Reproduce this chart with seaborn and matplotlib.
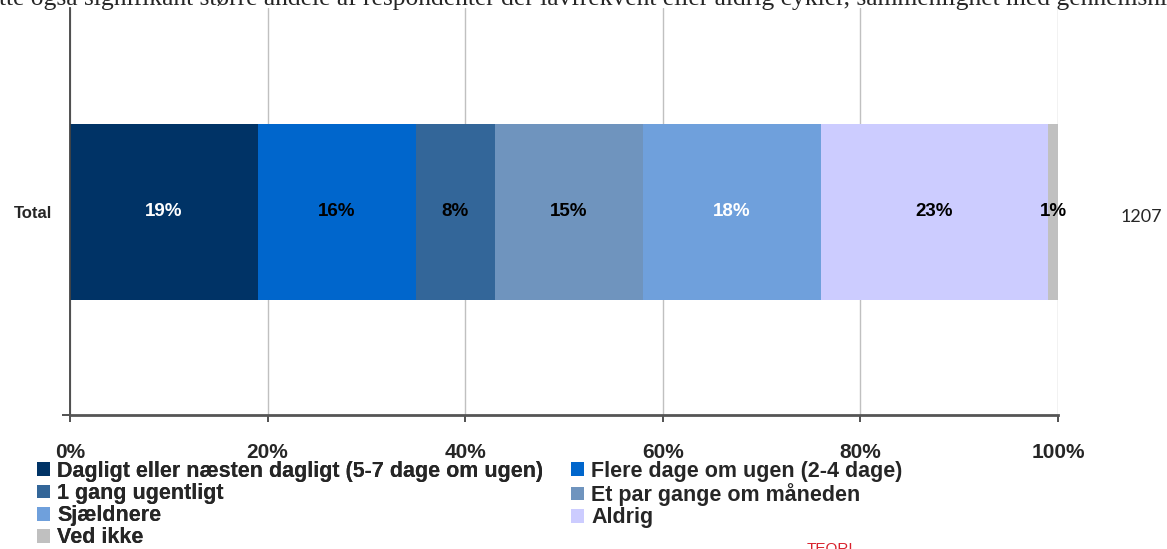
import matplotlib
matplotlib.use("Agg")
import matplotlib.pyplot as plt
from matplotlib.patches import Patch
import pandas as pd
import seaborn as sns


CATEGORIES = [
    "Dagligt eller næsten dagligt (5-7 dage om ugen)",
    "Flere dage om ugen (2-4 dage)",
    "1 gang ugentligt",
    "Et par gange om måneden",
    "Sjældnere",
    "Aldrig",
    "Ved ikke",
]
SHARES = [19, 16, 8, 15, 18, 23, 1]
COLORS = ["#003366", "#0066CC", "#336699", "#6F94BE", "#6FA0DC", "#CCCCFF", "#C0C0C0"]
LABEL_COLORS = ["white", "black", "black", "black", "white", "black", "black"]
ROW = "Total"
N_TOTAL = "1207"
INTRO = ("tte også signifikant større andele af respondenter der lavfrekvent "
         "eller aldrig cykler, sammenlignet med gennemsnittet")

W, H = 1167, 549


def main():
    sns.set_theme(style="white")
    plt.rcParams["font.family"] = ["Liberation Sans", "DejaVu Sans"]

    df = pd.DataFrame({"category": CATEGORIES, "share": SHARES})
    df["end"] = df["share"].cumsum()
    df["start"] = df["end"] - df["share"]
    df["row"] = ROW

    fig = plt.figure(figsize=(W / 100, H / 100), dpi=100)
    ax = fig.add_axes([70 / W, 1 - 415 / H, (1058 - 70) / W, (415 - 8) / H])

    # stacked bars: draw cumulative totals back to front
    for i in reversed(range(len(df))):
        sns.barplot(data=df.iloc[[i]], x="end", y="row", color=COLORS[i],
                    width=0.8, saturation=1, linewidth=0, ax=ax, zorder=2)

    for i, r in df.iterrows():
        ax.text((r["start"] + r["end"]) / 2, 0, f"{r['share']}%",
                ha="center", va="center", fontsize=13.5, fontweight="bold",
                color=LABEL_COLORS[i], zorder=3)

    ax.set_xlim(0, 100)
    ax.set_ylim(0.925, -0.925)
    ax.set_xticks(range(0, 101, 20))
    ax.set_xticklabels([f"{v}%" for v in range(0, 101, 20)],
                       fontsize=15, fontweight="bold")
    ax.tick_params(axis="x", direction="out", length=5, width=1.2,
                   color="#333333", pad=15, bottom=True)
    ax.set_yticks([0])
    ax.set_yticklabels([ROW], fontsize=12, fontweight="bold")
    ax.tick_params(axis="y", length=0, pad=13)
    ax.set_yticks([0.925], minor=True)
    ax.tick_params(axis="y", which="minor", direction="out", length=6,
                   width=1.2, color="#333333", left=True)
    ax.set_xlabel("")
    ax.set_ylabel("")

    ax.grid(axis="x", color="#C0C0C0", linewidth=1, zorder=0)
    ax.set_axisbelow(True)
    for side in ["top", "right"]:
        ax.spines[side].set_visible(False)
    ax.spines["left"].set_color("#444444")
    ax.spines["left"].set_linewidth(1.3)
    ax.spines["bottom"].set_color("#555555")
    ax.spines["bottom"].set_linewidth(2)

    fig.text(1121 / W, 1 - 217 / H, N_TOTAL, fontsize=13, ha="left",
             va="center", family=["Lato", "DejaVu Sans"])

    fig.text(-1 / W, 1 - 5 / H, INTRO, fontsize=18.4, ha="left", va="baseline",
             family=["Liberation Serif", "DejaVu Serif"])

    handles = [Patch(facecolor=c, edgecolor="none") for c in COLORS]
    legend_style = dict(frameon=False, prop={"weight": "bold", "size": 15.5},
                        handlelength=0.62, handleheight=0.62, handletextpad=0.32,
                        labelspacing=0.05, borderpad=0, borderaxespad=0,
                        loc="upper left")
    left_idx = [0, 2, 4, 6]
    right_idx = [1, 3, 5]
    leg1 = fig.legend([handles[i] for i in left_idx], [CATEGORIES[i] for i in left_idx],
                      bbox_to_anchor=(37 / W, 1 - 461 / H), **legend_style)
    fig.legend([handles[i] for i in right_idx], [CATEGORIES[i] for i in right_idx],
               bbox_to_anchor=(571 / W, 1 - 461 / H), **legend_style)
    fig.add_artist(leg1)

    fig.text(830 / W, 1 - 542 / H, "TEORI", fontsize=11, color="#D9232E",
             ha="center", va="top")

    fig.savefig("out.png", dpi=100)
    plt.close(fig)


if __name__ == "__main__":
    main()
